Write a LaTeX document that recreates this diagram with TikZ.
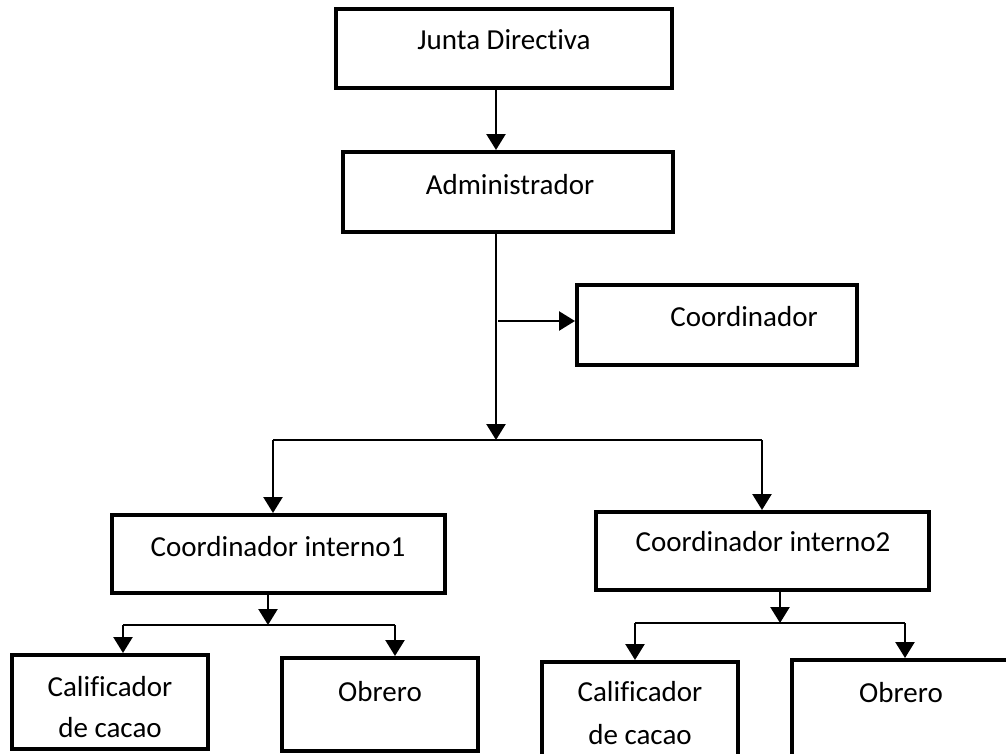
\documentclass[tikz,border=0pt]{standalone}
\usepackage{fontspec}
\setmainfont[Ligatures=NoCommon]{Carlito}
\usetikzlibrary{arrows.meta}
\tikzset{
  box/.style={draw=black, line width=4pt, inner sep=0pt},
  conn/.style={draw=black, line width=2.4pt},
  arr/.style={conn, -{Triangle[width=19pt,length=16pt]}},
  lbl/.style={inner sep=0pt, font=\fontsize{29}{35}\selectfont, align=center}
}
\begin{document}
\begin{tikzpicture}[x=1pt,y=-1pt]
\useasboundingbox (0,0) rectangle (1006,753);
\clip (0,0) rectangle (1006,753);
% boxes
\node[box, minimum width=336pt, minimum height=79pt] (jd) at (504,48.5) {};
\node[box, minimum width=330pt, minimum height=80pt] (adm) at (508,192) {};
\node[box, minimum width=280pt, minimum height=80pt] (coord) at (717,325) {};
\node[box, minimum width=333pt, minimum height=78pt] (ci1) at (278.5,554) {};
\node[box, minimum width=333pt, minimum height=78pt] (ci2) at (762,551) {};
\node[box, minimum width=196pt, minimum height=94pt] (cal1) at (110,702) {};
\node[box, minimum width=196pt, minimum height=93pt] (ob1) at (380,704.5) {};
\node[box, minimum width=196pt, minimum height=128pt] (cal2) at (640,726) {};
\node[box, minimum width=220pt, minimum height=130pt] (ob2) at (902,725) {};
% labels
\node[lbl] (tjd) at (504,40) {Junta Directiva};
\node[lbl] (tadm) at (510,185) {Administrador};
\node[lbl] (tcoord) at (744,317) {Coordinador};
\node[lbl] (tci1) at (278,547) {Coordinador interno1};
\node[lbl] (tci2) at (763,542) {Coordinador interno2};
\node[lbl] (tcal1a) at (110,687) {Calificador};
\node[lbl] (tcal1b) at (110,728) {de cacao};
\node[lbl] (tob1) at (380,692) {Obrero};
\node[lbl] (tcal2a) at (640,692) {Calificador};
\node[lbl] (tcal2b) at (640,735) {de cacao};
\node[lbl] (tob2) at (901,693) {Obrero};
% coordinates
\coordinate (t) at (496,0);
\coordinate (b) at (496,440);
\coordinate (cj) at (498,321);
\coordinate (bl) at (273,440);
\coordinate (br) at (762,440);
\coordinate (s1) at (268,625);
\coordinate (s1l) at (123,625);
\coordinate (s1r) at (395,625);
\coordinate (s2) at (780,623);
\coordinate (s2l) at (635,623);
\coordinate (s2r) at (905,623);
% connectors
\draw[arr] (jd.south -| t) -- (adm.north -| t);
\draw[arr] (adm.south -| b) -- (b);
\draw[arr] (cj) -- (cj -| coord.west);
\draw[conn] (bl) -- (br);
\draw[arr] (bl) -- (bl |- ci1.north);
\draw[arr] (br) -- (br |- ci2.north);
\draw[arr] (ci1.south -| s1) -- (s1);
\draw[conn] (s1l) -- (s1r);
\draw[arr] (s1l) -- (s1l |- cal1.north);
\draw[arr] (s1r) -- (s1r |- ob1.north);
\draw[arr] (ci2.south -| s2) -- (s2);
\draw[conn] (s2l) -- (s2r);
\draw[arr] (s2l) -- (s2l |- cal2.north);
\draw[arr] (s2r) -- (s2r |- ob2.north);
\end{tikzpicture}
\end{document}
